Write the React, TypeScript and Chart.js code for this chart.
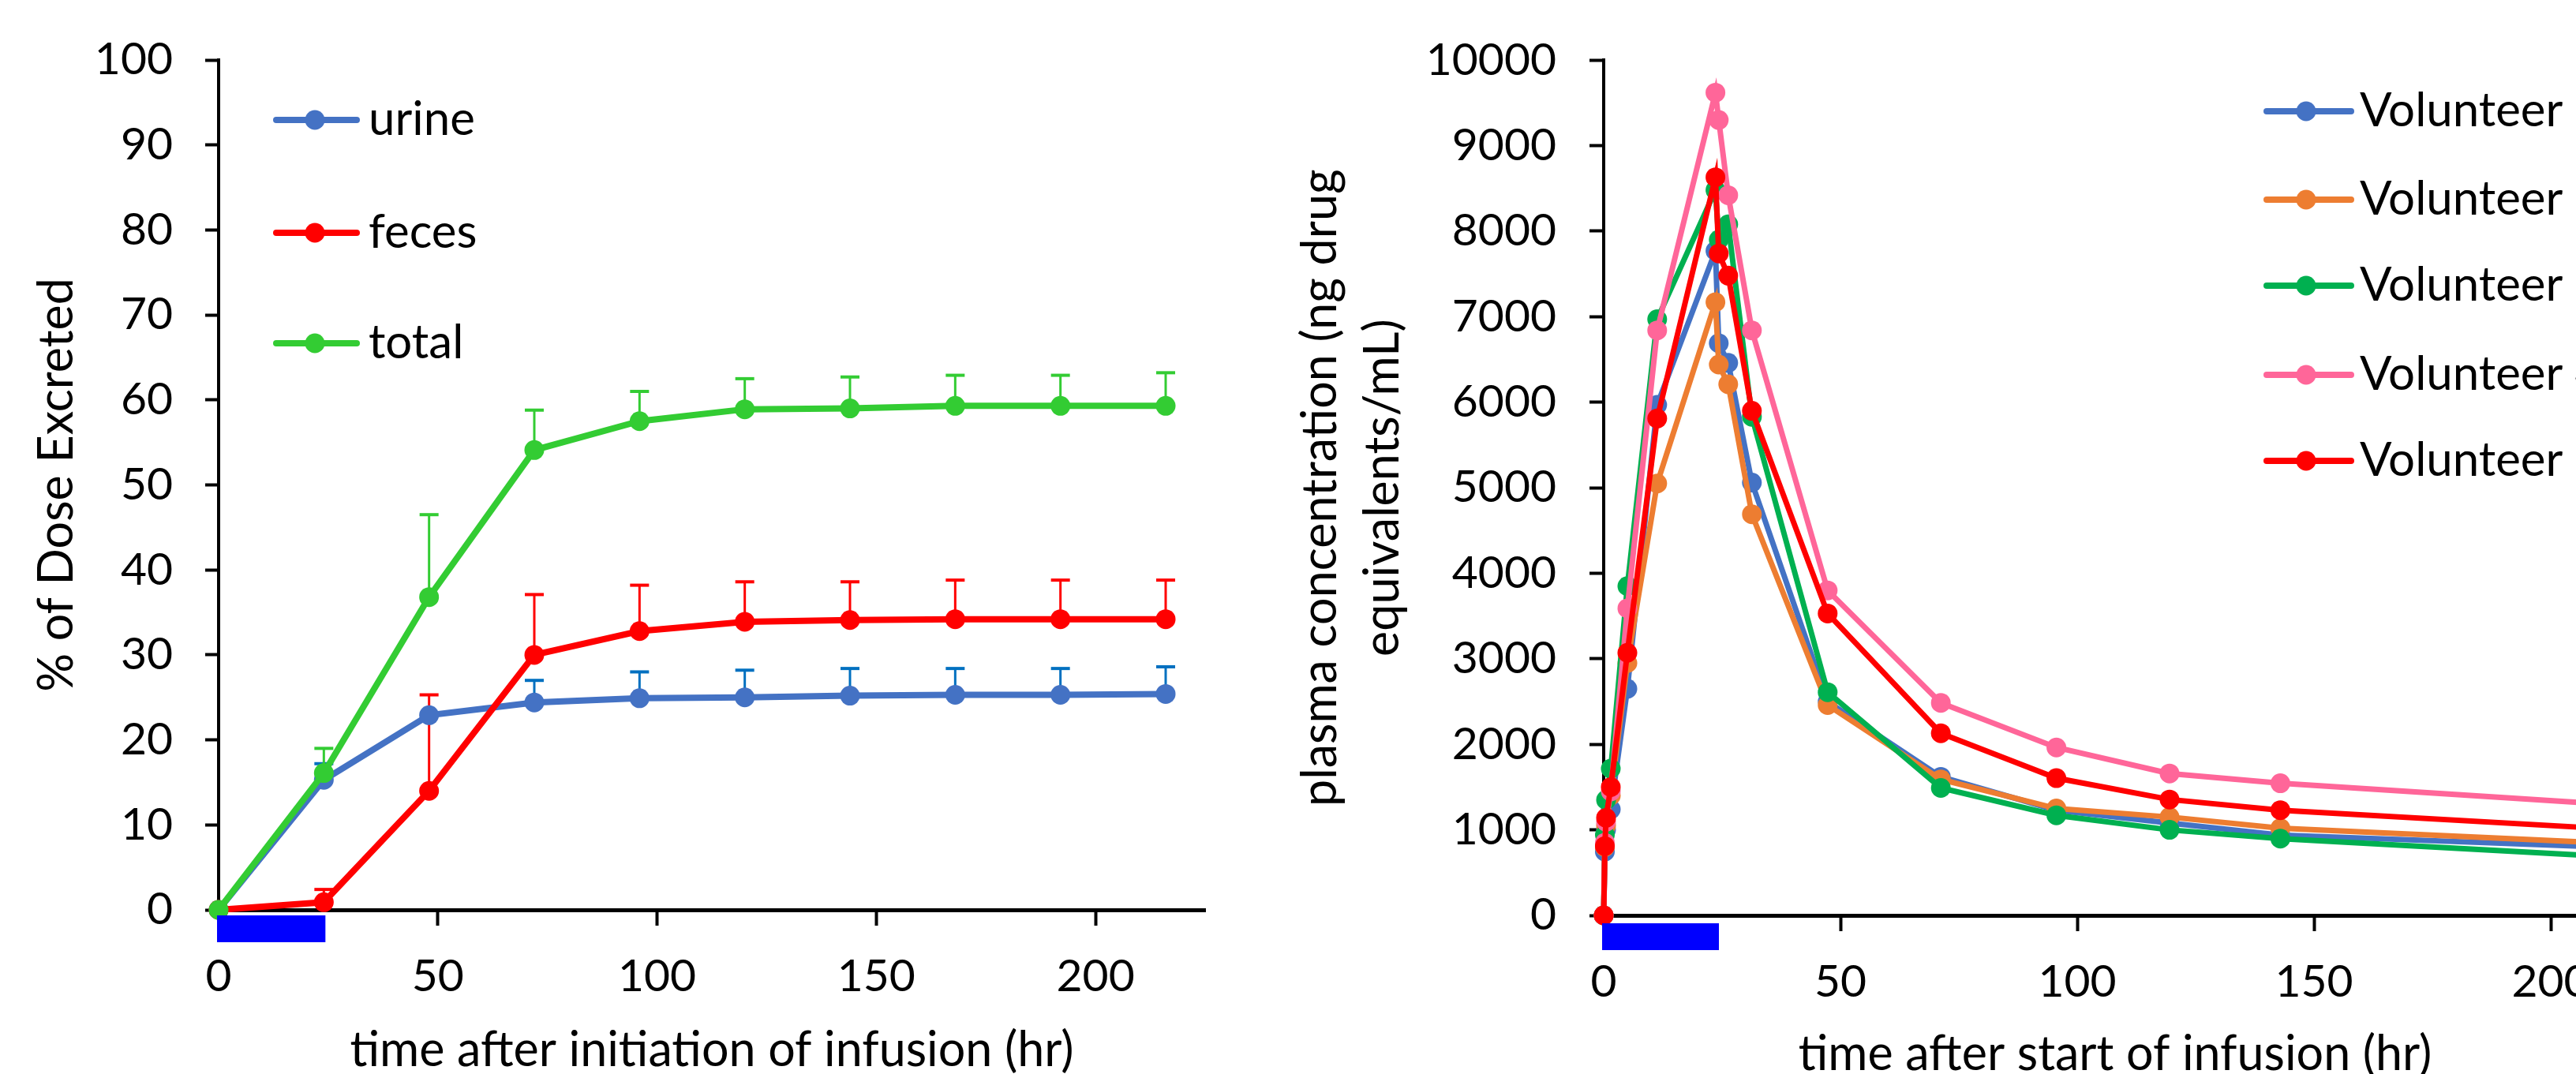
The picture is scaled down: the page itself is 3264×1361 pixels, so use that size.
import React, { useEffect, useRef } from 'react';
import { Chart, registerables } from 'chart.js';

Chart.register(...registerables);

const FONT = 'Lato, "Open Sans", sans-serif';
const TICK_FONT_SIZE = 57;
const LEGEND_FONT_SIZE = 60;
const TITLE_FONT_SIZE = 61;

// ---------- Left panel: cumulative excretion ----------
const EXCRETION_HOURS = [0, 24, 48, 72, 96, 120, 144, 168, 192, 216];
const URINE = [0, 15.3, 22.9, 24.4, 24.9, 25.0, 25.2, 25.3, 25.3, 25.4];
const URINE_UPPER = [null, 17.2, null, 27.0, 28.0, 28.2, 28.4, 28.4, 28.4, 28.6];
const FECES = [0, 0.9, 14.0, 30.0, 32.8, 33.9, 34.1, 34.2, 34.2, 34.2];
const FECES_UPPER = [null, 2.4, 25.3, 37.1, 38.2, 38.6, 38.6, 38.8, 38.8, 38.8];
const TOTAL = [0, 16.1, 36.8, 54.1, 57.5, 58.9, 59.0, 59.3, 59.3, 59.3];
const TOTAL_UPPER = [null, 19.0, 46.5, 58.8, 61.0, 62.5, 62.7, 62.9, 62.9, 63.2];
const EXCRETION_LABELS = ['urine', 'feces', 'total'];
const EXCRETION_COLORS = ['#4472C4', '#FF0000', '#33CC33'];
const EXCRETION_ERROR_COLORS = ['#0070C0', '#FF0000', '#33CC33'];
const LEFT_Y_TITLE = '% of Dose Excreted';
const LEFT_X_TITLE = 'time after initiation of infusion (hr)';

// ---------- Right panel: plasma concentration ----------
const PLASMA_HOURS = [0, 0.25, 0.5, 1.5, 5, 11.3, 23.6, 24.3, 26.3, 31.3, 47.3, 71.2, 95.6, 119.5, 142.9, 216];
const VOLUNTEER_1 = [0, 745, 1000, 1240, 2650, 5970, 7770, 6690, 6460, 5060, 2500, 1620, 1230, 1080, 940, 790];
const VOLUNTEER_2 = [0, 800, 1050, 1400, 2950, 5050, 7170, 6440, 6210, 4690, 2460, 1590, 1250, 1150, 1020, 836];
const VOLUNTEER_3 = [0, 940, 1350, 1716, 3850, 6970, 8480, 7900, 8080, 5830, 2610, 1490, 1170, 1000, 897, 676];
const VOLUNTEER_4 = [0, 850, 1095, 1450, 3590, 6840, 9620, 9300, 8420, 6840, 3800, 2485, 1963, 1659, 1545, 1285];
const VOLUNTEER_5 = [0, 810, 1140, 1500, 3070, 5810, 8630, 7740, 7480, 5900, 3530, 2130, 1605, 1355, 1230, 1000];
const VOLUNTEER_LABELS = ['Volunteer 1', 'Volunteer 2', 'Volunteer 3', 'Volunteer 4', 'Volunteer 5'];
const VOLUNTEER_COLORS = ['#4472C4', '#ED7D31', '#00B050', '#FF6699', '#FF0000'];
const RIGHT_Y_TITLE = ['plasma concentration (ng drug', 'equivalents/mL)'];
const RIGHT_X_TITLE = 'time after start of infusion (hr)';

// infusion period (hr)
const INFUSION_WINDOW = [0, 24];

const tickFont = { family: FONT, size: TICK_FONT_SIZE };

const errorBarPlugin = {
  id: 'errorBars',
  beforeDatasetsDraw(chart: any) {
    const ctx = chart.ctx;
    const yScale = chart.scales.y;
    chart.data.datasets.forEach((ds: any, i: number) => {
      if (!ds.upper) return;
      const meta = chart.getDatasetMeta(i);
      ctx.save();
      ctx.strokeStyle = ds.errorColor;
      ds.upper.forEach((u: number | null, j: number) => {
        if (u == null) return;
        const pt = meta.data[j];
        const yTop = yScale.getPixelForValue(u);
        ctx.lineWidth = 3;
        ctx.beginPath();
        ctx.moveTo(pt.x, pt.y);
        ctx.lineTo(pt.x, yTop);
        ctx.stroke();
        ctx.lineWidth = 4;
        ctx.beginPath();
        ctx.moveTo(pt.x - 12, yTop);
        ctx.lineTo(pt.x + 12, yTop);
        ctx.stroke();
      });
      ctx.restore();
    });
  },
};

const extrasPlugin = {
  id: 'extras',
  afterDraw(chart: any, _args: any, opts: any) {
    const ctx = chart.ctx;
    const area = chart.chartArea;
    const xs = chart.scales.x;
    ctx.save();
    // infusion bar
    const bx0 = xs.getPixelForValue(INFUSION_WINDOW[0]);
    const bx1 = xs.getPixelForValue(INFUSION_WINDOW[1]);
    ctx.fillStyle = '#0000FF';
    ctx.fillRect(bx0 - 2, area.bottom + opts.barGap, bx1 - bx0 + 4, opts.barHeight);

    // legend
    const lg = opts.legend;
    lg.labels.forEach((label: string, i: number) => {
      const y = lg.ys[i];
      const color = lg.colors[i];
      ctx.strokeStyle = color;
      ctx.lineWidth = 8;
      ctx.lineCap = 'round';
      ctx.beginPath();
      ctx.moveTo(lg.x1, y);
      ctx.lineTo(lg.x2, y);
      ctx.stroke();
      ctx.fillStyle = color;
      ctx.beginPath();
      ctx.arc(lg.markerX, y, 12.5, 0, Math.PI * 2);
      ctx.fill();
      ctx.fillStyle = '#000';
      ctx.font = `${LEGEND_FONT_SIZE}px ${FONT}`;
      ctx.textAlign = 'left';
      ctx.textBaseline = 'middle';
      ctx.fillText(label, lg.textX, y);
    });

    // axis titles
    ctx.fillStyle = '#000';
    ctx.font = `${TITLE_FONT_SIZE}px ${FONT}`;
    ctx.textAlign = 'center';
    ctx.textBaseline = 'alphabetic';
    ctx.fillText(opts.xTitle, (area.left + area.right) / 2, opts.xTitleBaseline);
    const midY = (area.top + area.bottom) / 2;
    opts.yTitle.forEach((line: string, i: number) => {
      ctx.save();
      ctx.translate(opts.yTitleBaselines[i], midY);
      ctx.rotate(-Math.PI / 2);
      ctx.fillText(line, 0, 0);
      ctx.restore();
    });
    ctx.restore();
  },
};

function axisCommon(tickLength: number, borderWidth: number) {
  return {
    border: { display: true, color: '#000', width: borderWidth },
    grid: {
      display: true,
      drawOnChartArea: false,
      drawTicks: true,
      tickLength,
      tickWidth: 4,
      tickColor: '#000',
    },
  };
}

function lineDataset(label: string, hours: number[], values: number[], color: string, order: number, width: number) {
  return {
    label,
    data: hours.map((h, i) => ({ x: h, y: values[i] })),
    borderColor: color,
    backgroundColor: color,
    pointBackgroundColor: color,
    pointBorderColor: color,
    pointBorderWidth: 0,
    pointRadius: 12.5,
    pointHoverRadius: 12.5,
    borderWidth: width,
    tension: 0,
    fill: false,
    clip: false,
    order,
  };
}

function leftConfig(): any {
  const series = [URINE, FECES, TOTAL];
  const uppers = [URINE_UPPER, FECES_UPPER, TOTAL_UPPER];
  const orders = [2, 1, 0];
  return {
    type: 'line',
    data: {
      datasets: series.map((vals, i) => ({
        ...lineDataset(EXCRETION_LABELS[i], EXCRETION_HOURS, vals, EXCRETION_COLORS[i], orders[i], 8),
        upper: uppers[i],
        errorColor: EXCRETION_ERROR_COLORS[i],
      })),
    },
    options: {
      animation: false,
      responsive: false,
      devicePixelRatio: 1,
      layout: { padding: { left: 0, right: 73, top: 76, bottom: 0 } },
      plugins: {
        legend: { display: false },
        tooltip: { enabled: false },
        extras: {
          barGap: 7,
          barHeight: 34,
          legend: {
            labels: EXCRETION_LABELS,
            colors: EXCRETION_COLORS,
            ys: [152, 295, 435],
            x1: 350,
            x2: 452,
            markerX: 399,
            textX: 467,
          },
          xTitle: LEFT_X_TITLE,
          xTitleBaseline: 1351,
          yTitle: [LEFT_Y_TITLE],
          yTitleBaselines: [92],
        },
      },
      scales: {
        x: {
          type: 'linear',
          min: 0,
          max: 225,
          ...axisCommon(20, 5),
          ticks: {
            stepSize: 50,
            includeBounds: false,
            padding: 30,
            maxRotation: 0,
            font: tickFont,
            color: '#000',
            callback: (v: number) => String(v),
          },
          afterFit: (s: any) => {
            s.height = 208;
          },
        },
        y: {
          type: 'linear',
          min: 0,
          max: 100,
          ...axisCommon(17, 4),
          ticks: {
            stepSize: 10,
            padding: 41,
            font: tickFont,
            color: '#000',
            callback: (v: number) => String(v),
          },
          afterFit: (s: any) => {
            s.width = 277;
          },
        },
      },
    },
    plugins: [errorBarPlugin, extrasPlugin],
  };
}

function rightConfig(): any {
  const series = [VOLUNTEER_1, VOLUNTEER_2, VOLUNTEER_3, VOLUNTEER_4, VOLUNTEER_5];
  return {
    type: 'line',
    data: {
      datasets: series.map((vals, i) =>
        lineDataset(VOLUNTEER_LABELS[i], PLASMA_HOURS, vals, VOLUNTEER_COLORS[i], 4 - i, 7)
      ),
    },
    options: {
      animation: false,
      responsive: false,
      devicePixelRatio: 1,
      layout: { padding: { left: 0, right: 72, top: 76, bottom: 0 } },
      plugins: {
        legend: { display: false },
        tooltip: { enabled: false },
        extras: {
          barGap: 10,
          barHeight: 34,
          legend: {
            labels: VOLUNTEER_LABELS,
            colors: VOLUNTEER_COLORS,
            ys: [141, 253, 362, 475, 584],
            x1: 1272,
            x2: 1379,
            markerX: 1322,
            textX: 1390,
          },
          xTitle: RIGHT_X_TITLE,
          xTitleBaseline: 1356,
          yTitle: RIGHT_Y_TITLE,
          yTitleBaselines: [93, 172],
        },
      },
      scales: {
        x: {
          type: 'linear',
          min: 0,
          max: 216,
          ...axisCommon(20, 5),
          ticks: {
            stepSize: 50,
            includeBounds: false,
            padding: 30,
            maxRotation: 0,
            font: tickFont,
            color: '#000',
            callback: (v: number) => String(v),
          },
          afterFit: (s: any) => {
            s.height = 201;
          },
        },
        y: {
          type: 'linear',
          min: 0,
          max: 10000,
          ...axisCommon(18, 4),
          ticks: {
            stepSize: 1000,
            padding: 42,
            font: tickFont,
            color: '#000',
            callback: (v: number) => String(v),
          },
          afterFit: (s: any) => {
            s.width = 432;
          },
        },
      },
    },
    plugins: [extrasPlugin],
  };
}

export default function App() {
  const leftRef = useRef<HTMLCanvasElement | null>(null);
  const rightRef = useRef<HTMLCanvasElement | null>(null);

  useEffect(() => {
    document.body.style.margin = '0';
    document.body.style.background = '#fff';
    const left = new Chart(leftRef.current as HTMLCanvasElement, leftConfig());
    const right = new Chart(rightRef.current as HTMLCanvasElement, rightConfig());
    return () => {
      left.destroy();
      right.destroy();
    };
  }, []);

  return (
    <div style={{ position: 'relative', width: 3264, height: 1361, overflow: 'hidden', background: '#fff' }}>
      <canvas
        ref={leftRef}
        width={1600}
        height={1361}
        style={{ position: 'absolute', left: 0, top: 0, width: 1600, height: 1361 }}
      />
      <canvas
        ref={rightRef}
        width={1800}
        height={1361}
        style={{ position: 'absolute', left: 1600, top: 0, width: 1800, height: 1361 }}
      />
    </div>
  );
}
